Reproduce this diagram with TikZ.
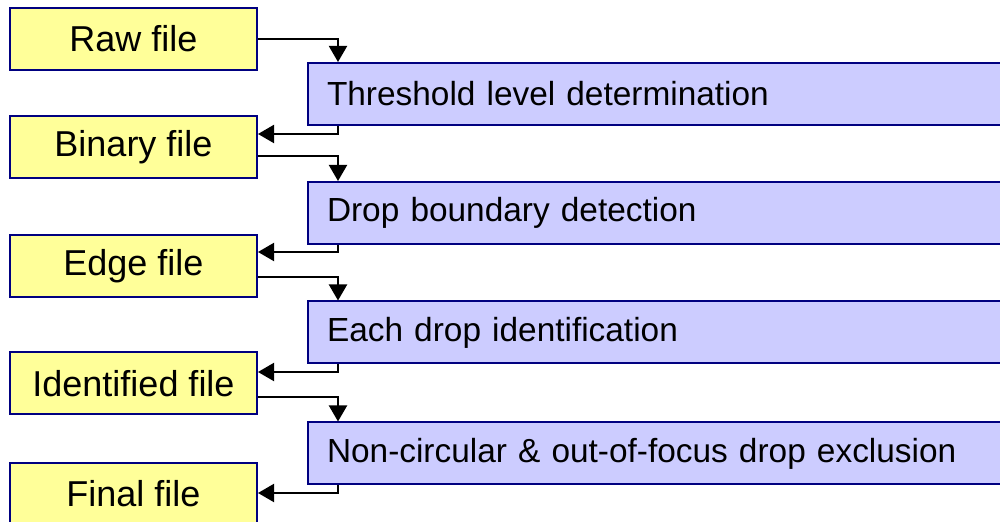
\documentclass[tikz,border=0pt]{standalone}
\usepackage{fontspec}
\setmainfont{Liberation Sans}
\usetikzlibrary{arrows.meta,calc}
\definecolor{filebg}{HTML}{FFFF99}
\definecolor{stepbg}{HTML}{CCCCFF}
\definecolor{edgeblue}{HTML}{000080}
\tikzset{
  filebox/.style={draw=edgeblue, fill=filebg, line width=1pt, minimum width=123.5pt,
    minimum height=31pt, inner sep=0pt, font=\fontsize{18}{20}\selectfont},
  stepbox/.style={draw=edgeblue, fill=stepbg, line width=1pt, anchor=west, text width=341pt,
    align=left, inner xsep=9.5pt, minimum height=31pt, inner ysep=0pt,
    font=\fontsize{16.7}{19}\selectfont},
  flow/.style={-{Triangle[length=8pt,width=9pt]}, line width=1pt},
}
\begin{document}
\begin{tikzpicture}[x=0.5pt,y=-0.5pt]
  \useasboundingbox (0,0) rectangle (1000,522);
  \clip (0,0) rectangle (1000,522);
  % files on the left
  \foreach \nm/\yy/\txt in {raw/39/Raw file, bin/147.5/Binary file, edg/266/Edge file,
      idf/383.5/Identified file, fin/494/Final file}
    \node[filebox] (\nm) at (133.5,\yy) {\txt};
  % processing steps on the right
  \foreach \nm/\yy/\txt in {thr/94/Threshold level determination,
      bnd/213/Drop boundary detection, ide/332.5/Each drop identification,
      exc/453.5/Non-circular \& out-of-focus drop exclusion}
    \node[stepbox] (\nm) at (307,\yy) {\txt};
  % file -> step
  \draw[flow] (raw.east) -| ([xshift=15.5pt]thr.north west);
  \draw[flow] ([yshift=-4.25pt]bin.east) -| ([xshift=15.5pt]bnd.north west);
  \draw[flow] ([yshift=-5.5pt]edg.east) -| ([xshift=15.5pt]ide.north west);
  \draw[flow] ([yshift=-6.75pt]idf.east) -| ([xshift=15.5pt]exc.north west);
  % step -> file
  \draw[flow] ([xshift=15.5pt]thr.south west) |- ([yshift=6.75pt]bin.east);
  \draw[flow] ([xshift=15.5pt]bnd.south west) |- ([yshift=7pt]edg.east);
  \draw[flow] ([xshift=15.5pt]ide.south west) |- ([yshift=5.75pt]idf.east);
  \draw[flow] ([xshift=15.5pt]exc.south west) |- ([yshift=0.5pt]fin.east);
\end{tikzpicture}
\end{document}
